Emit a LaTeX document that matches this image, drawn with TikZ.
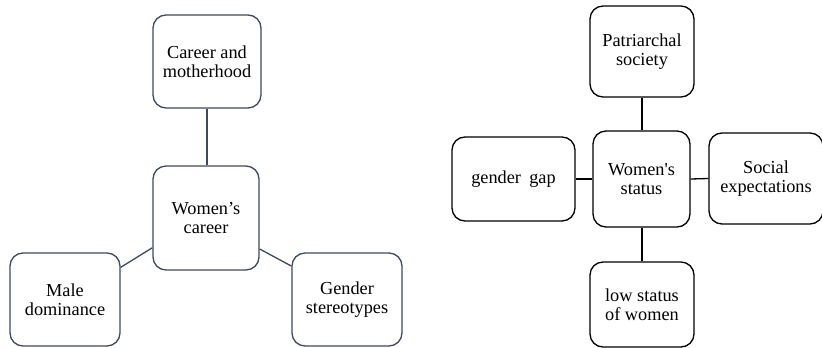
\documentclass[tikz,border=0pt]{standalone}
\usepackage{fontspec}
\setmainfont{Liberation Serif}[Ligatures=TeXOff]
\definecolor{slate}{RGB}{62,74,92}
\begin{document}
\begin{tikzpicture}[x=1pt,y=-1pt,
  box/.style={draw,rectangle,rounded corners=13pt,line width=1.3pt,align=center,inner sep=0pt,
    font=\fontsize{18.3}{19}\selectfont},
  lbox/.style={box,draw=slate},
  rbox/.style={box,draw=black},
  lline/.style={draw=slate,line width=1.3pt},
  rline/.style={draw=black,line width=1.3pt}]
\useasboundingbox (0,0) rectangle (822,348);
% left diagram
\node[lbox,minimum width=108pt,minimum height=93pt] (cm) at (207,61.5) {Career and\\motherhood};
\node[lbox,minimum width=106pt,minimum height=104pt] (wc) at (206,218) {Women’s\\career};
\node[lbox,minimum width=110pt,minimum height=93pt] (md) at (65,299.5) {Male\\dominance};
\node[lbox,minimum width=110pt,minimum height=93pt] (gs) at (347,299.5) {Gender\\stereotypes};
\draw[lline] (cm.south) -- (cm.south |- wc.north);
\draw[lline] (md.30.6) -- (wc.209.5);
\draw[lline] (gs.149.4) -- (wc.330.5);
% right diagram
\node[rbox,minimum width=104pt,minimum height=91pt] (ps) at (642,51.5) {Patriarchal\\society};
\node[rbox,minimum width=97pt,minimum height=96pt] (ws) at (641.5,179) {Women's\\status};
\node[rbox,minimum width=123pt,minimum height=84pt] (gg) at (513.5,179) {gender\hspace{0.45em}gap};
\node[rbox,minimum width=114pt,minimum height=91pt] (se) at (766,178.5) {Social\\expectations};
\node[rbox,minimum width=104pt,minimum height=85pt] (ls) at (642,304.5) {low status\\of women};
\draw[rline] (ps.south) -- (ps.south |- ws.north);
\draw[rline] (ls.north) -- (ls.north |- ws.south);
\draw[rline] (gg.east) -- (ws.west);
\draw[rline] (ws.east) -- (se.west);
\end{tikzpicture}
\end{document}
